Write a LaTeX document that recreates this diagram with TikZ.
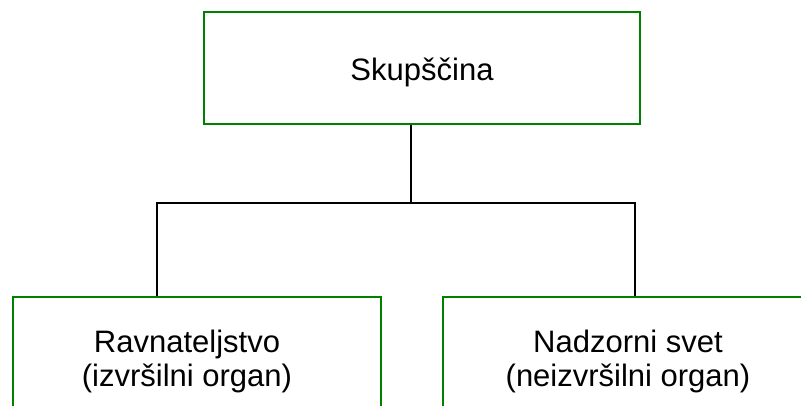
\documentclass[tikz,border=0pt]{standalone}
\usepackage{fontspec}
\setmainfont{Liberation Sans}
\definecolor{boxgreen}{RGB}{0,128,0}
\begin{document}
\begin{tikzpicture}[x=1pt,y=-1pt,
  orgbox/.style={draw=boxgreen,line width=2pt,rectangle,inner sep=0pt},
  orgtext/.style={inner sep=0pt,align=center,font=\fontsize{31}{34}\selectfont},
  conn/.style={draw=black,line width=1.5pt}]
\useasboundingbox (0,0) rectangle (801,405);
\clip (0,0) rectangle (801,405);
\fill[white] (0,0) rectangle (801,405);
\node[orgbox,minimum width=436pt,minimum height=112pt] (top) at (422,68) {};
\node[orgtext] (toptext) at (422,72) {Skupščina};
\node[orgbox,minimum width=368pt,minimum height=128pt] (left) at (197,361) {};
\node[orgtext] (lefttext) at (187,361) {Ravnateljstvo\\(izvršilni organ)};
\node[orgbox,minimum width=370pt,minimum height=128pt] (right) at (628,361) {};
\node[orgtext] (righttext) at (628,361) {Nadzorni svet\\(neizvršilni organ)};
\coordinate (hub) at (411,203);
\coordinate (L) at (157,203);
\coordinate (R) at (635,203);
\draw[conn] (top.south -| hub) -- (hub);
\draw[conn] (left.north -| L) -- (L) -- (R) -- (right.north -| R);
\end{tikzpicture}
\end{document}
